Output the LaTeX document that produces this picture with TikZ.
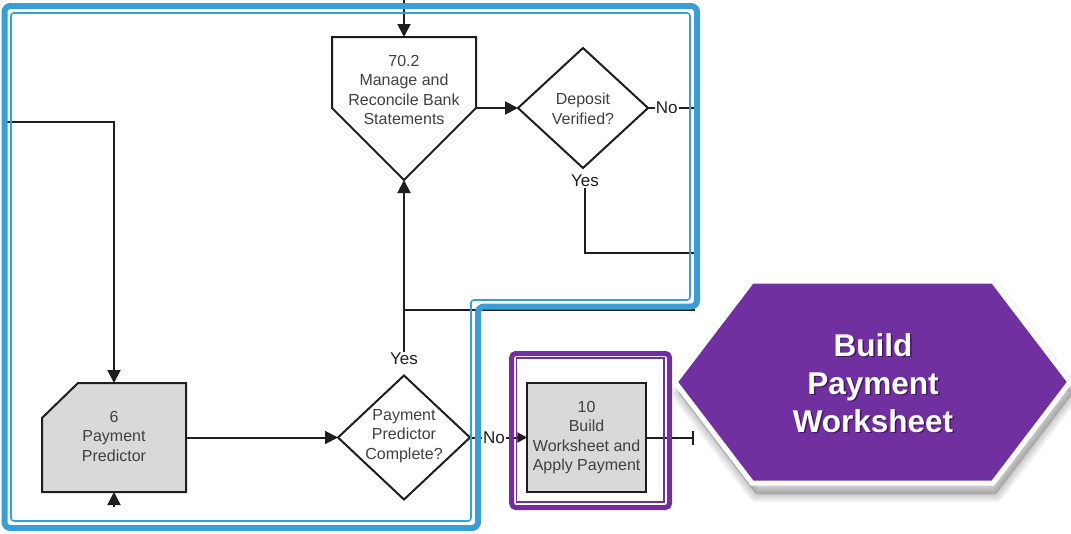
\documentclass[tikz,border=0pt]{standalone}
\usepackage{fontspec}
\setmainfont{Liberation Sans}
\usetikzlibrary{arrows.meta,shapes.geometric,calc}

\definecolor{frameblue}{RGB}{58,157,214}
\definecolor{hexpurple}{RGB}{112,48,160}
\definecolor{boxgray}{RGB}{217,217,217}
\definecolor{ink}{RGB}{30,30,30}
\definecolor{txt}{RGB}{64,64,64}

\begin{document}
\begin{tikzpicture}[x=1pt,y=-1pt,
  flow/.style={draw=ink, line width=2pt},
  arr/.style={flow, -{Triangle[length=13pt,width=13pt]}},
  smallarr/.style={flow, -{Triangle[length=10pt,width=10pt]}},
  outline/.style={draw=ink, line width=2pt},
  anchorbox/.style={rectangle, inner sep=0pt, outer sep=0pt},
  shapetext/.style={font=\fontsize{16pt}{19.5pt}\selectfont, text=txt, align=center, inner sep=0pt},
  lbl/.style={font=\fontsize{17pt}{20pt}\selectfont, text=ink, fill=white, inner sep=1pt},
  decision/.style={diamond, outline, fill=white, inner sep=0pt, outer sep=0pt},
  procbox/.style={rectangle, outline, fill=boxgray, inner sep=0pt, outer sep=0pt,
    font=\fontsize{16pt}{19.5pt}\selectfont, text=txt, align=center},
  titletext/.style={font=\bfseries\fontsize{31.5pt}{38pt}\selectfont, align=center, inner sep=0pt},
]
\useasboundingbox (0,0) rectangle (1071,533);

% ---------- 70.2 Manage and Reconcile Bank Statements (off-page pentagon)
\node[anchorbox, minimum width=144pt, minimum height=71pt] (mrb) at (404,72.5) {};
\coordinate (mrbTip) at (404,180);
\draw[outline, fill=white] (mrb.north west) -- (mrb.north east) -- (mrb.south east)
  -- (mrbTip) -- (mrb.south west) -- cycle;
\node[shapetext] (mrbText) at (404,90) {70.2\\Manage and\\Reconcile Bank\\Statements};

% ---------- Deposit Verified?
\node[decision, minimum width=130pt, minimum height=120pt] (dv) at (583,108) {};
\node[shapetext] (dvText) at (583,109) {Deposit\\Verified?};

% ---------- 6 Payment Predictor (chamfered box)
\node[anchorbox, minimum width=144pt, minimum height=109pt] (pp) at (114,437.5) {};
\draw[outline, fill=boxgray] (pp.south west) -- ($(pp.north west)+(0,35)$)
  -- ($(pp.north west)+(36,0)$) -- (pp.north east) -- (pp.south east) -- cycle;
\node[shapetext] (ppText) at (114,436) {6\\Payment\\Predictor};

% ---------- Payment Predictor Complete?
\node[decision, minimum width=132pt, minimum height=124pt] (ppc) at (404,437.5) {};
\node[shapetext] (ppcText) at (404,436) {Payment\\Predictor\\Complete?};

% ---------- 10 Build Worksheet and Apply Payment
\node[procbox, minimum width=118.7pt, minimum height=108.4pt] (bw) at (586.6,437.5)
  {10\\Build\\Worksheet and\\Apply Payment};

% ---------- connectors
\coordinate (inTop) at (404,0);
\coordinate (inLeft) at (4,122);
\coordinate (inBottom) at (114,507);
\coordinate (dvNoEnd) at (695,108);
\coordinate (dvYesEnd) at (695,253);
\coordinate (junc) at (404,309.5);
\coordinate (juncEnd) at (695,309.5);
\coordinate (bwOut) at (694,437.5);

\draw[arr] (inTop) -- (mrb.north);
\draw[arr] (mrb.south east) -- (dv.west);
\draw[flow] (dv.east) -- node[lbl, pos=0.4] {No} (dvNoEnd);
\node[lbl] (dvYes) at (585,181) {Yes};
\draw[flow] (dvYes.south) |- (dvYesEnd);

\draw[arr] (inLeft) -| (pp.north);
\draw[arr] (inBottom) -- (pp.south);
\draw[arr] (pp.east) -- (ppc.west);

\node[lbl] (ppcYes) at (404,359) {Yes};
\draw[arr] (ppcYes.north) -- (mrbTip);
\draw[flow] (junc) -- (juncEnd);

\draw[smallarr] (ppc.east) -- node[lbl, pos=0.42] {No} (bw.west);
\draw[flow, -{Bar[width=14pt]}] (bw.east) -- (bwOut);

% ---------- swim-lane frame (double blue line)
\draw[frameblue, line width=6pt, rounded corners=6pt]
  (4.5,6) -- (697,6) -- (697,306.5) -- (478,306.5) -- (478,528) -- (4.5,528) -- cycle;
\draw[frameblue, line width=1.6pt, rounded corners=3pt]
  (11,13) -- (690,13) -- (690,300) -- (471,300) -- (471,521) -- (11,521) -- cycle;

% ---------- highlight frame (double purple line)
\draw[hexpurple, line width=5pt, rounded corners=4pt] (511.7,353.5) rectangle (669.5,507.5);
\draw[hexpurple, line width=1.2pt] (516.7,358) rectangle (664,502);

% ---------- Build Payment Worksheet banner with soft shadow
\foreach \w in {16,12,8,4,1}{
  \draw[black, opacity=0.05, line width=\w pt, line join=round, fill=black, fill opacity=0.035]
    (679,393) -- (756,292) -- (996,292) -- (1073,393) -- (996,494) -- (756,494) -- cycle;
}
\draw[white, line width=5pt, fill=hexpurple, line join=miter]
  (675,382) -- (752,281) -- (993,281) -- (1070,382) -- (993,483) -- (752,483) -- cycle;
\node[titletext, text=black, opacity=0.45] at (874.5,384.5) {Build\\Payment\\Worksheet};
\node[titletext, text=white] (bpw) at (873,383) {Build\\Payment\\Worksheet};
\end{tikzpicture}
\end{document}
